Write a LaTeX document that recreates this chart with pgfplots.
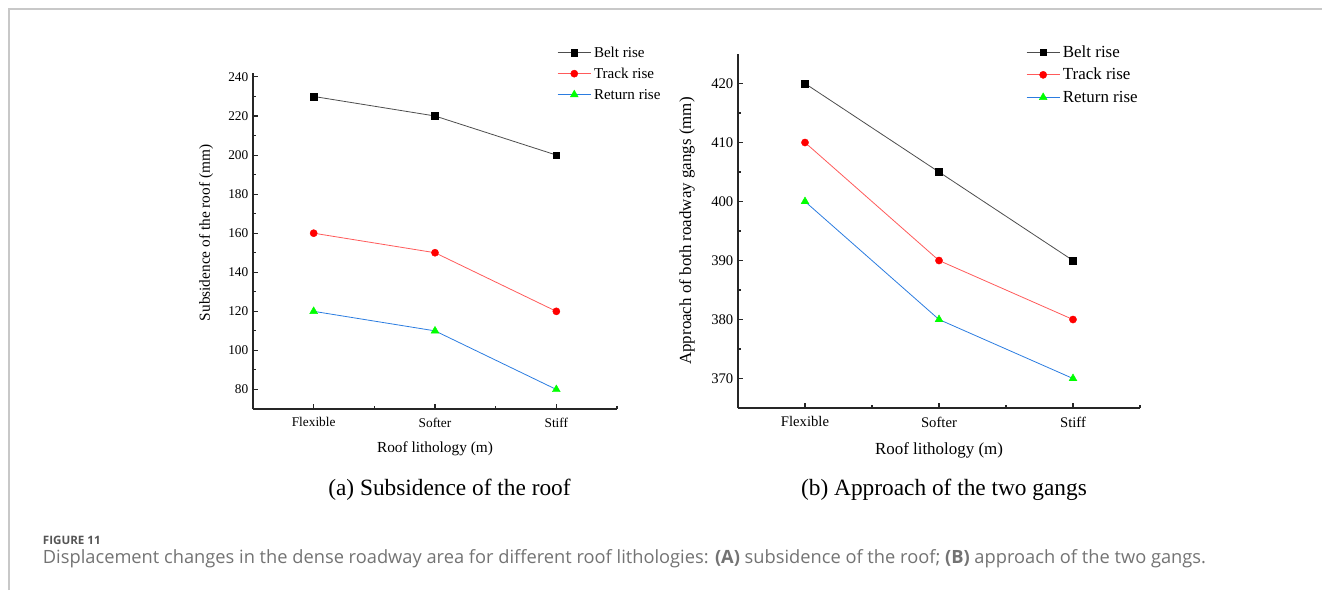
\documentclass[border=0pt]{standalone}
\usepackage{pgfplots}
\pgfplotsset{compat=1.18}
\usepackage{fontspec}
\setmainfont{Liberation Serif}
\newfontfamily\capfont{Open Sans}
\definecolor{beltline}{HTML}{4D4D4D}
\definecolor{trackline}{HTML}{FF5A5A}
\definecolor{retline}{HTML}{2B7CE0}
\definecolor{trimark}{HTML}{00FF00}
\definecolor{framegray}{HTML}{C8C8C8}
\definecolor{capgray}{HTML}{737373}
\definecolor{capdark}{HTML}{555555}

\pgfplotsset{
  mystyle/.style={
    scale only axis,
    axis x line*=bottom,
    axis y line*=left,
    tick align=inside,
    major tick length=3.75pt,
    minor tick length=2.2pt,
    axis line style={line width=0.9pt, black!85},
    every tick/.style={line width=0.8pt, black!85},
    xmin=-0.5, xmax=2.5,
    xtick={0,1,2},
    xticklabels={Flexible,Softer,Stiff},
    minor xtick={-0.5,0.5,1.5,2.5},
    minor y tick num=1,
    xticklabel style={yshift=-3pt},
    /pgf/number format/assume math mode=true,
    /pgf/number format/1000 sep={},
    legend cell align=left,
    legend image code/.code={\draw[mark repeat=2,mark phase=2] plot coordinates {(0pt,0pt) (12.5pt,0pt) (25pt,0pt)};},
  },
  belt/.style={color=beltline, line width=0.6pt, mark=square*, mark size=2.5pt, mark options={fill=black, draw=black, line width=0.3pt}},
  track/.style={color=trackline, line width=0.6pt, mark=*, mark size=2.7pt, mark options={fill=red, draw=red, line width=0.3pt}},
  ret/.style={color=retline, line width=0.6pt, mark=triangle*, mark size=3.4pt, mark options={fill=trimark, draw=trimark, line width=0.3pt}},
}

\begin{document}
\begin{tikzpicture}
% frame
\draw[framegray, line width=0.8pt] (6.75pt,-442.5pt) -- (6.75pt,-6.75pt) -- (991.5pt,-6.75pt);

% left axis
\begin{axis}[mystyle,
  at={(189.75pt,-306.75pt)}, anchor=south west,
  width=273pt, height=252pt,
  ymin=70, ymax=242,
  ytick={80,100,...,240},
  tick label style={font=\fontsize{10}{12}\selectfont},
  label style={font=\fontsize{11.5}{13}\selectfont},
  xlabel={Roof lithology (m)},
  ylabel={Subsidence of the roof (mm)},
  xlabel style={at={(axis description cs:0.5,-0.119)}, anchor=center},
  ylabel style={at={(axis description cs:-0.129,0.524)}, anchor=center},
  legend style={draw=none, fill=none, inner sep=0pt, anchor=north west,
    at={(axis description cs:0.835,1.0926)}, font=\fontsize{11.3}{13}\selectfont,
    nodes={inner ysep=0.375pt, inner xsep=2pt, text height=11pt, text depth=4pt}},
]
\addplot[belt] coordinates {(0,230) (1,220) (2,200)};
\addlegendentry{Belt rise}
\addplot[track] coordinates {(0,160) (1,150) (2,120)};
\addlegendentry{Track rise}
\addplot[ret] coordinates {(0,120) (1,110) (2,80)};
\addlegendentry{Return rise}
\end{axis}

% right axis
\begin{axis}[mystyle,
  at={(553.5pt,-306pt)}, anchor=south west,
  width=301.5pt, height=265.5pt,
  ymin=365, ymax=425,
  ytick={370,380,...,420},
  tick label style={font=\fontsize{11}{13}\selectfont},
  label style={font=\fontsize{12.7}{14}\selectfont},
  xlabel={Roof lithology (m)},
  ylabel={Approach of both roadway gangs (mm)},
  xlabel style={at={(axis description cs:0.5,-0.119)}, anchor=center},
  ylabel style={at={(axis description cs:-0.127,0.5)}, anchor=center},
  legend style={draw=none, fill=none, inner sep=0pt, anchor=north west,
    at={(axis description cs:0.716,1.0374)}, font=\fontsize{12.7}{14}\selectfont,
    nodes={inner ysep=0.25pt, inner xsep=2pt, text height=12pt, text depth=4.4pt}},
]
\addplot[belt] coordinates {(0,420) (1,405) (2,390)};
\addlegendentry{Belt rise}
\addplot[track] coordinates {(0,410) (1,390) (2,380)};
\addlegendentry{Track rise}
\addplot[ret] coordinates {(0,400) (1,380) (2,370)};
\addlegendentry{Return rise}
\end{axis}

% subcaptions
\node[anchor=base, font=\fontsize{17.5}{20}\selectfont] at (337.1pt,-371.5pt) {(a) Subsidence of the roof};
\node[anchor=base, font=\fontsize{17.5}{20}\selectfont] at (708pt,-371.5pt) {(b) Approach of the two gangs};

% figure caption
\node[anchor=base west, inner sep=0pt, font=\capfont\bfseries\fontsize{8.7}{10}\selectfont, text=capdark] at (32pt,-408pt) {FIGURE 11};
\node[anchor=base west, inner sep=0pt, font=\capfont\fontsize{13.7}{15}\selectfont, text=capgray] at (32pt,-422.25pt) {Displacement changes in the dense roadway area for different roof lithologies: \textbf{(A)} subsidence of the roof; \textbf{(B)} approach of the two gangs.};

\pgfresetboundingbox
\path (0pt,0pt) rectangle (991.5pt,-442.5pt);
\end{tikzpicture}
\end{document}
